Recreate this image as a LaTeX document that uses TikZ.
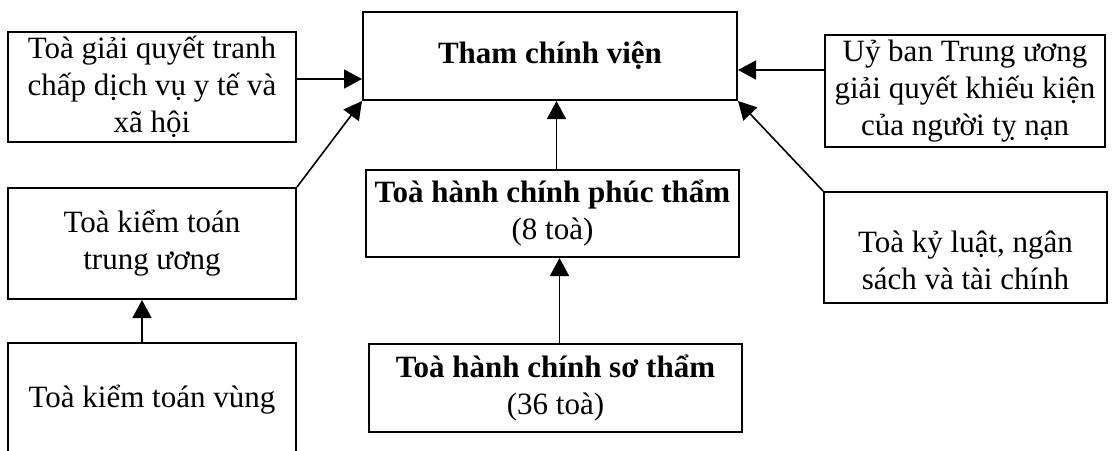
\documentclass[tikz,border=0pt]{standalone}
\usepackage{fontspec}
\setmainfont{Liberation Serif}
\usepackage{tikz}
\usetikzlibrary{positioning, arrows.meta, shapes}
\tikzstyle{process} = [rectangle, minimum width=288pt, minimum height=110pt, text centered, align=center, draw=black, line width=1pt, inner sep=2pt, font=\fontsize{15.5}{18.5}\selectfont]
\tikzstyle{arrow} = [line width=0.8pt,-{Triangle[length=9pt,width=9.5pt]}]

\begin{document}
\begin{tikzpicture}[x=0.5pt, y=-0.5pt]
\useasboundingbox (0,0) rectangle (1112,450);
\clip (0,0) rectangle (1112,450);

\node (thamchinh) [process, minimum width=187pt, minimum height=44pt, font=\fontsize{15.5}{18.5}\selectfont\bfseries] at (550,56) {Tham chính viện};
\node (ytexh) [process, minimum width=144pt, minimum height=55pt] at (152,87) {Toà giải quyết tranh\\chấp dịch vụ y tế và\\xã hội};
\node (ktoantw) [process, minimum width=144pt, minimum height=55.5pt] at (152,243.5) {Toà kiểm toán\\trung ương};
\node (ktoanvung) [process, minimum width=144pt, minimum height=57pt] at (152,400) {Toà kiểm toán vùng};
\node (phucth) [process, minimum width=186.5pt, minimum height=43.5pt] at (552.5,213.5) {\textbf{Toà hành chính phúc thẩm}\\(8 toà)};
\node (soth) [process, minimum width=186.5pt, minimum height=44pt] at (555.5,388) {\textbf{Toà hành chính sơ thẩm}\\(36 toà)};
\node (uyban) [process, minimum width=140pt, minimum height=56pt] at (965,91) {Uỷ ban Trung ương\\giải quyết khiếu kiện\\của người tỵ nạn};
\node (kyluat) [process, minimum width=141.5pt, minimum height=55.5pt] at (965.5,247.5) {\rule{0pt}{24pt}Toà kỷ luật, ngân\\sách và tài chính};

\draw [arrow] ([yshift=4pt]ytexh.east) -- ([yshift=4pt]ytexh.east -| thamchinh.west);
\draw [arrow] ([yshift=10.5pt]uyban.west) -- ([yshift=10.5pt]uyban.west -| thamchinh.east);
\draw [arrow] (ktoantw.north east) -- (thamchinh.south west);
\draw [arrow] (kyluat.north west) -- (thamchinh.south east);
\draw [arrow] ([xshift=2pt]phucth.north) -- ([xshift=2pt]phucth.north |- thamchinh.south);
\draw [arrow] ([xshift=2pt]soth.north) -- ([xshift=2pt]soth.north |- phucth.south);
\draw [arrow] ([xshift=-5pt]ktoanvung.north) -- ([xshift=-5pt]ktoanvung.north |- ktoantw.south);

\end{tikzpicture}
\end{document}
